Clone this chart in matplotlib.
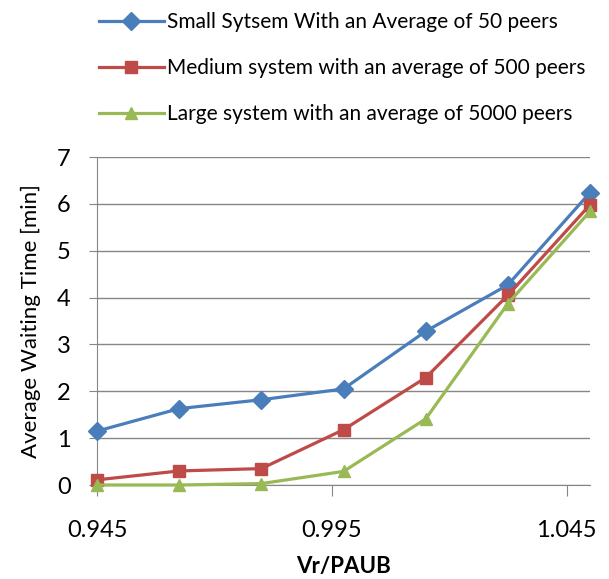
import matplotlib
matplotlib.use("Agg")
import matplotlib.pyplot as plt

plt.rcParams['font.family'] = ['Lato', 'DejaVu Sans']

# x values (Vr/PAUB)
x_vals = [0.945, 0.9625, 0.98, 0.9975, 1.015, 1.0325, 1.05]

small_sys  = [1.15, 1.63, 1.82, 2.05, 3.28, 4.27, 6.24]
medium_sys = [0.11, 0.30, 0.35, 1.18, 2.29, 4.05, 5.98]
large_sys  = [0.0, 0.0, 0.03, 0.29, 1.41, 3.87, 5.84]

labels = ["Small Sytsem With an Average of 50 peers",
          "Medium system with an average of 500 peers",
          "Large system with an average of 5000 peers"]

x_ticks = [0.945, 0.995, 1.045]
x_tick_labels = ["0.945", "0.995", "1.045"]

fig = plt.figure(figsize=(6.09, 5.79), dpi=100)
ax = fig.add_axes([97/609, 1-485/579, (590-97)/609, (485-157)/579])

ax.plot(x_vals, small_sys, color="#4A7EBB", lw=2.3, marker="D", ms=9, label=labels[0], clip_on=False, zorder=5)
ax.plot(x_vals, medium_sys, color="#BE4B48", lw=2.3, marker="s", ms=8, label=labels[1], clip_on=False, zorder=5)
ax.plot(x_vals, large_sys, color="#98B954", lw=2.3, marker="^", ms=9, label=labels[2], clip_on=False, zorder=5)

ax.set_xlim(0.945, 1.05)
ax.set_ylim(0, 7)
ax.set_xticks(x_ticks)
ax.set_xticklabels(x_tick_labels)
ax.set_yticks(range(8))
ax.grid(axis="y", color="#868686", lw=1)
ax.set_axisbelow(True)
for s in ["top", "right"]:
    ax.spines[s].set_visible(False)
for s in ["left", "bottom"]:
    ax.spines[s].set_color("#868686")
ax.tick_params(axis="x", direction="out", length=8, color="#868686", labelsize=17, pad=17)
ax.tick_params(axis="y", direction="out", length=6, color="#868686", labelsize=17, pad=13)

ax.set_xlabel("Vr/PAUB", fontsize=16, fontweight="bold", labelpad=11)
ax.set_ylabel("Average Waiting Time [min]", fontsize=16, labelpad=11)

ax.legend(loc="upper left", bbox_to_anchor=(99/609, 1 - 12/579), bbox_transform=fig.transFigure,
          frameon=False, fontsize=15, handlelength=3.1, labelspacing=1.25, handletextpad=0.15,
          borderaxespad=0, borderpad=0)

fig.savefig("out.png", dpi=100)
